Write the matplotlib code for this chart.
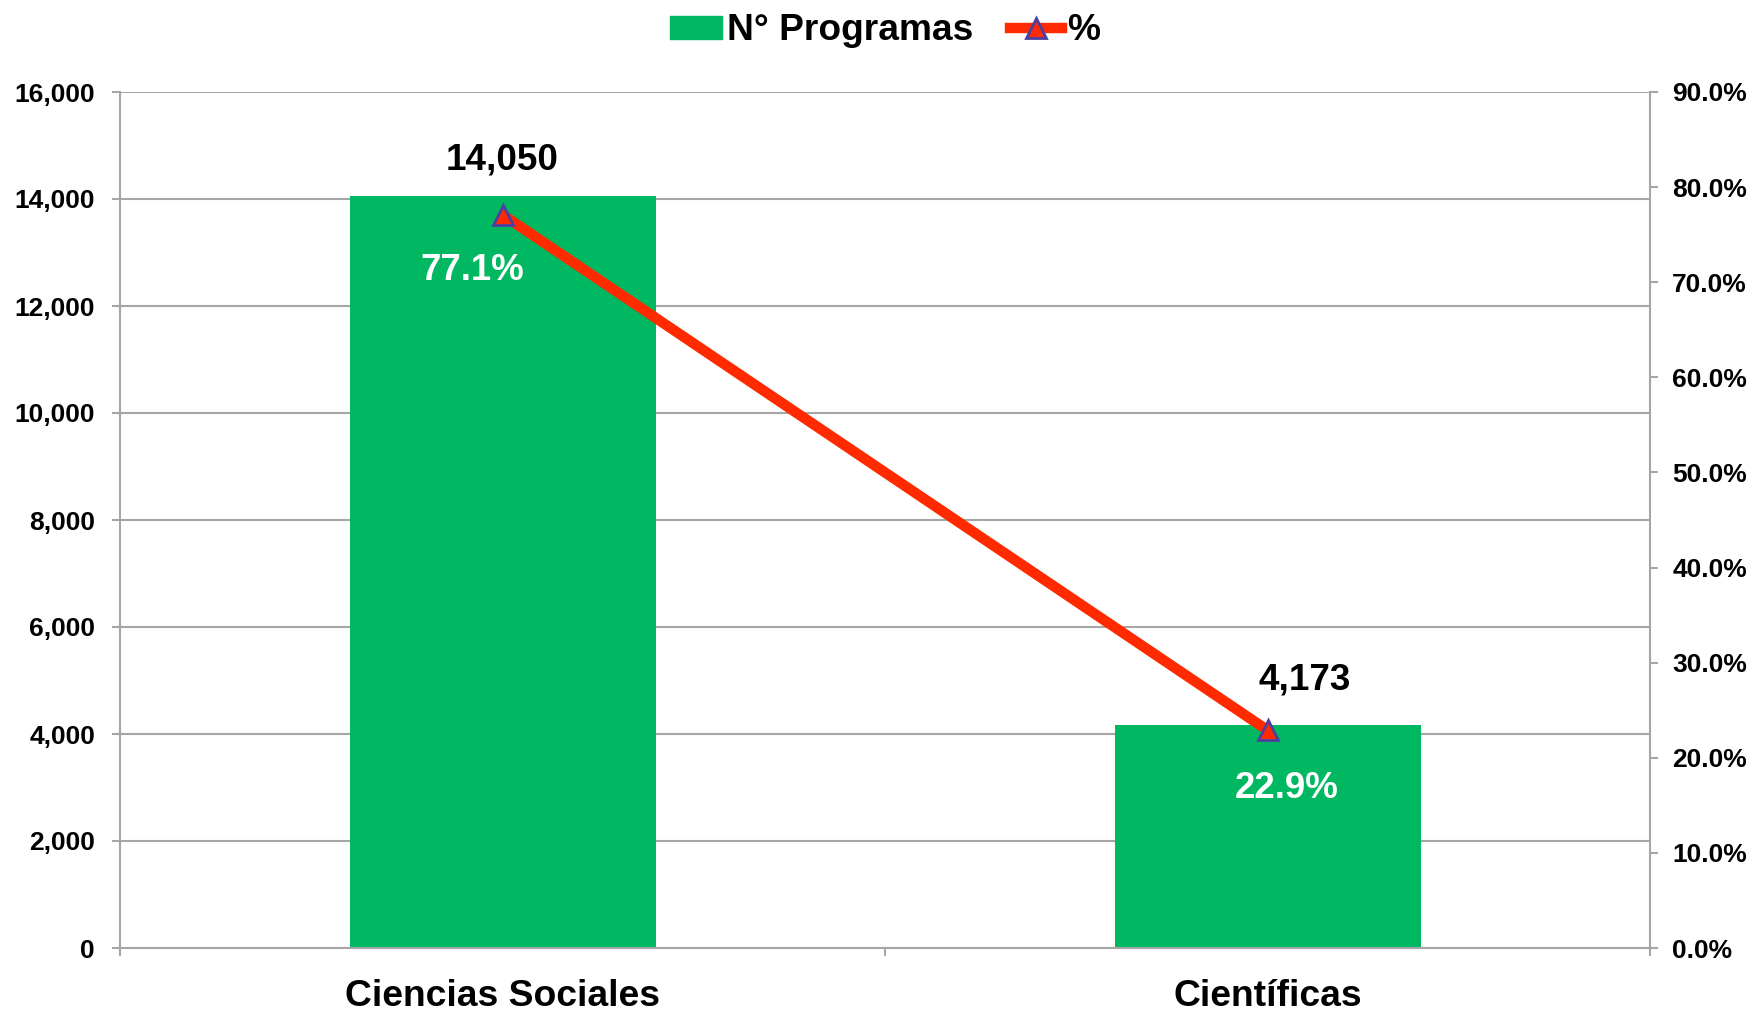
import matplotlib.pyplot as plt
import matplotlib.ticker as mticker
from matplotlib.lines import Line2D
from matplotlib.patches import Patch

# Datos
categorias = ["Ciencias Sociales", "Científicas"]
programas = [14050, 4173]
porcentajes = [0.771, 0.229]
etiquetas_prog = ["14,050", "4,173"]
etiquetas_pct = ["77.1%", "22.9%"]

plt.rcParams['font.family'] = ['Liberation Sans', 'DejaVu Sans']
plt.rcParams['font.weight'] = 'bold'

verde = "#00B862"
rojo = "#FF2A00"
gris = "#A6A6A6"

fig = plt.figure(figsize=(17.53, 10.14), dpi=100)
ax = fig.add_axes([120 / 1753, 1 - 948 / 1014, 1530 / 1753, 856 / 1014])
ax2 = ax.twinx()

x = list(range(len(categorias)))
ax.bar(x, programas, width=0.4, color=verde, zorder=2)
ax.set_xlim(-0.5, 1.5)
ax.set_ylim(0, 16000)
ax.set_yticks(range(0, 16001, 2000))
ax.yaxis.set_major_formatter(mticker.FuncFormatter(lambda v, p: f"{int(v):,}"))
ax.grid(axis='y', color=gris, linewidth=1.5, zorder=0)
ax.set_axisbelow(True)

ax.set_xticks(x)
ax.set_xticklabels(categorias, fontsize=26.8, fontweight='bold')
ax.set_xticks([-0.5, 0.5, 1.5], minor=True)
ax.tick_params(axis='x', which='major', length=0, pad=22)
ax.tick_params(axis='x', which='minor', length=6, width=1.5, color=gris)
ax.tick_params(axis='y', length=6, width=1.5, color=gris, labelsize=19, pad=12)

for s in ['left', 'bottom', 'right']:
    ax.spines[s].set_color(gris)
    ax.spines[s].set_linewidth(1.5)
ax.spines['top'].set_visible(False)

# Eje secundario
ax2.plot(x, porcentajes, color=rojo, linewidth=7.5, marker='^', markersize=14,
         markerfacecolor=rojo, markeredgecolor="#4B3FA0", markeredgewidth=2,
         solid_capstyle='butt', zorder=3)
ax2.set_ylim(0, 0.9)
ax2.set_yticks([i / 10 for i in range(10)])
ax2.yaxis.set_major_formatter(mticker.FuncFormatter(lambda v, p: f"{v * 100:.1f}%"))
ax2.tick_params(axis='y', length=6, width=1.5, color=gris, labelsize=19, pad=10)
for s in ['left', 'bottom', 'right', 'top']:
    ax2.spines[s].set_visible(False)

# Etiquetas
desp_prog = [(0, 26), (27, 32)]
for xi, val, txt, d in zip(x, programas, etiquetas_prog, desp_prog):
    ax.annotate(txt, (xi, val), xytext=d, textcoords='offset points',
                ha='center', va='center', fontsize=26.6, fontweight='bold', color='black')

desp_pct = [(-22, -40), (14, -42)]
for xi, val, txt, d in zip(x, porcentajes, etiquetas_pct, desp_pct):
    ax2.annotate(txt, (xi, val), xytext=d, textcoords='offset points',
                 ha='center', va='center', fontsize=26.4, fontweight='bold', color='white')

# Leyenda
handles = [Patch(color=verde, label="N° Programas"),
           Line2D([0], [0], color=rojo, linewidth=7.5, marker='^', markersize=14,
                  markerfacecolor=rojo, markeredgecolor="#4B3FA0", markeredgewidth=2,
                  label="%")]
fig.legend(handles=handles, loc='center', bbox_to_anchor=(0.505, 1 - 31 / 1014), ncol=2,
           frameon=False, handlelength=1.38, handleheight=0.6, handletextpad=0.15,
           columnspacing=1.0, prop={'weight': 'bold', 'size': 26.7})

fig.savefig("out.png", dpi=100)
